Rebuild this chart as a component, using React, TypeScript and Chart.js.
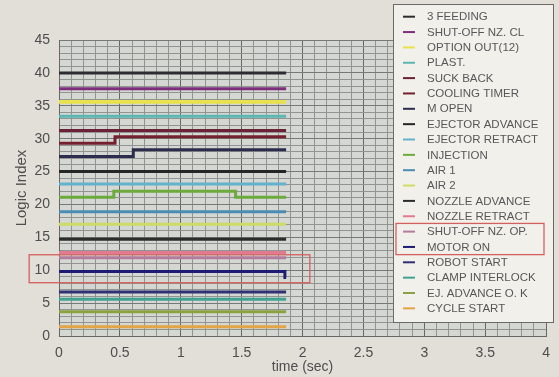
import React, { useEffect, useRef } from 'react';
import { Chart, registerables } from 'chart.js';
Chart.register(...registerables);

const signalNames = [
  '3 FEEDING', 'SHUT-OFF NZ. CL', 'OPTION OUT(12)', 'PLAST.', 'SUCK BACK',
  'COOLING TIMER', 'M OPEN', 'EJECTOR ADVANCE', 'EJECTOR RETRACT', 'INJECTION',
  'AIR 1', 'AIR 2', 'NOZZLE ADVANCE', 'NOZZLE RETRACT', 'SHUT-OFF NZ. OP.',
  'MOTOR ON', 'ROBOT START', 'CLAMP INTERLOCK', 'EJ. ADVANCE O. K', 'CYCLE START',
];
const signalColors = [
  '#2e2c30', '#7e2f7c', '#e8e24e', '#5cb6b2', '#6b2236',
  '#74202e', '#2c2c4c', '#262628', '#62b2cc', '#6caa3c',
  '#4a8cb4', '#ccdc64', '#2c2c2c', '#e27a92', '#b47c9c',
  '#1c1c74', '#303074', '#42a292', '#8aa242', '#e2a444',
];
// level of each signal at t = 0
const baseLevels = [40.0, 37.6, 35.6, 33.4, 31.25, 29.3, 27.3, 25.0, 23.1, 21.1, 18.9, 17.0, 14.7, 12.7, 11.9, 9.8, 6.7, 5.6, 3.7, 1.4];
// level changes: which signal, at what time, to what level
const changeSignal = [5, 6, 9, 9, 15];
const changeTimes = [0.46, 0.61, 0.45, 1.45, 1.855];
const changeLevels = [30.3, 28.3, 22.0, 21.1, 8.9];
const endTime = 1.865;

const xTickLabels = [0, 0.5, 1, 1.5, 2, 2.5, 3, 3.5, 4];
const yTickLabels = [0, 5, 10, 15, 20, 25, 30, 35, 40, 45];

// highlight boxes (data units for plot box, legend item indices for legend box)
const plotHighlight = { x0: -0.245, x1: 2.06, y0: 8.1, y1: 12.35 };
const legendHighlight = [14, 15];

function buildPoints(i: number) {
  const pts: { x: number; y: number }[] = [{ x: 0, y: baseLevels[i] }];
  let last = baseLevels[i];
  changeSignal.forEach((s, k) => {
    if (s === i) {
      pts.push({ x: changeTimes[k], y: changeLevels[k] });
      last = changeLevels[k];
    }
  });
  pts.push({ x: endTime, y: last });
  return pts;
}

const FONT = "'Liberation Sans', Arial, sans-serif";
const TEXT = '#4e4e4e';

const bgPlugin = {
  id: 'bgPlugin',
  beforeDraw(chart: any) {
    const { ctx, chartArea: a } = chart;
    ctx.save();
    ctx.fillStyle = '#e2ded8';
    ctx.fillRect(0, 0, chart.width, chart.height);
    ctx.fillStyle = '#d4d7d2';
    ctx.fillRect(a.left, a.top, a.right - a.left, a.bottom - a.top);
    ctx.restore();
  },
};

const legendPlugin = {
  id: 'customLegend',
  afterDraw(chart: any) {
    const { ctx } = chart;
    const x = chart.scales.x, y = chart.scales.y;
    ctx.save();
    const bx = 393, by = 4, bw = 160, bh = 318;
    ctx.fillStyle = '#f2f0eb';
    ctx.fillRect(bx, by, bw, bh);
    ctx.strokeStyle = '#6a6a6a';
    ctx.lineWidth = 1;
    ctx.strokeRect(bx + 0.5, by + 0.5, bw, bh);
    const firstY = 16.7, step = 15.35;
    ctx.font = `11.5px ${FONT}`;
    ctx.textBaseline = 'middle';
    chart.data.datasets.forEach((ds: any, i: number) => {
      const cy = firstY + i * step;
      ctx.strokeStyle = ds.borderColor;
      ctx.lineWidth = 2;
      ctx.beginPath();
      ctx.moveTo(403, cy);
      ctx.lineTo(415, cy);
      ctx.stroke();
      ctx.fillStyle = '#575757';
      ctx.fillText(ds.label, 427, cy + 0.5);
    });
    ctx.strokeStyle = '#d4605e';
    ctx.lineWidth = 1.3;
    const l0 = firstY + legendHighlight[0] * step - step / 2 - 0.5;
    const l1 = firstY + legendHighlight[1] * step + step / 2;
    ctx.strokeRect(396, l0, 148, l1 - l0);
    const px0 = x.getPixelForValue(plotHighlight.x0);
    const px1 = x.getPixelForValue(plotHighlight.x1);
    const py0 = y.getPixelForValue(plotHighlight.y1);
    const py1 = y.getPixelForValue(plotHighlight.y0);
    ctx.strokeRect(px0, py0, px1 - px0, py1 - py0);
    ctx.restore();
  },
};

const isMult = (v: number, m: number) => Math.abs(v / m - Math.round(v / m)) < 1e-6;

export default function App() {
  const ref = useRef<HTMLCanvasElement>(null);
  useEffect(() => {
    document.body.style.margin = '0';
    const datasets = signalNames.map((name, i) => ({
      label: name,
      data: buildPoints(i),
      borderColor: signalColors[i],
      backgroundColor: signalColors[i],
      borderWidth: i === 2 ? 3.8 : 3,
      pointRadius: 0,
      stepped: 'before' as const,
      fill: false,
    }));
    const chart = new Chart(ref.current as HTMLCanvasElement, {
      type: 'line',
      data: { datasets },
      plugins: [bgPlugin, legendPlugin],
      options: {
        animation: false,
        responsive: false,
        maintainAspectRatio: false,
        layout: { padding: { top: 40, right: 11, left: 0, bottom: 0 } },
        plugins: { legend: { display: false }, tooltip: { enabled: false } },
        scales: {
          x: {
            type: 'linear',
            min: 0,
            max: 4,
            afterFit: (s: any) => { s.height = 41; },
            ticks: {
              stepSize: 0.1,
              autoSkip: false,
              maxRotation: 0,
              padding: 9,
              color: TEXT,
              font: { family: FONT, size: 14 },
              callback: (v: any) => {
                const n = Number(v);
                const lab = xTickLabels.find((t) => Math.abs(t - n) < 1e-6);
                return lab !== undefined ? String(lab) : '';
              },
            },
            grid: {
              drawTicks: false,
              color: (c: any) => (isMult(c.tick.value, 0.5) ? '#656864' : '#919490'),
              lineWidth: 1,
            },
            border: { display: true, color: '#656864' },
            title: { display: true, text: 'time (sec)', color: TEXT, font: { family: FONT, size: 14 }, padding: { top: 0, bottom: 1 } },
          },
          y: {
            type: 'linear',
            min: 0,
            max: 45,
            afterFit: (s: any) => { s.width = 59; },
            ticks: {
              stepSize: 1,
              autoSkip: false,
              padding: 9,
              color: TEXT,
              font: { family: FONT, size: 14 },
              callback: (v: any) => {
                const n = Number(v);
                const lab = yTickLabels.find((t) => Math.abs(t - n) < 1e-6);
                return lab !== undefined ? String(lab) : '';
              },
            },
            grid: {
              drawTicks: false,
              color: (c: any) => (isMult(c.tick.value, 5) ? '#767975' : '#919490'),
              lineWidth: 1,
            },
            border: { display: true, color: '#656864' },
            title: { display: true, text: 'Logic Index', color: TEXT, font: { family: FONT, size: 15 }, padding: { top: 13, bottom: 0 } },
          },
        },
      },
    });
    return () => chart.destroy();
  }, []);
  return (
    <div style={{ width: 559, height: 377 }}>
      <canvas ref={ref} width={559} height={377} style={{ display: 'block', width: 559, height: 377 }} />
    </div>
  );
}
